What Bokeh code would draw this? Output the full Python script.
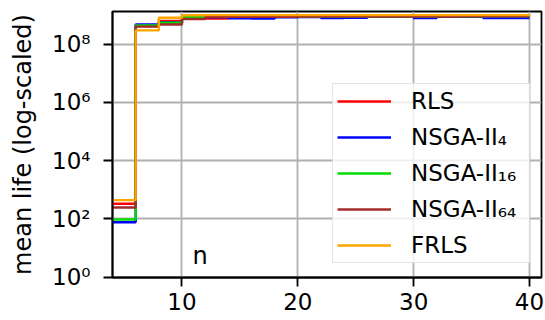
from bokeh.plotting import figure
from bokeh.models import Range1d, FixedTicker, CustomJSTickFormatter, Legend, LegendItem, Label
from bokeh.embed import file_html
from bokeh.resources import INLINE

# ---- data ----
N = [4, 6, 8, 10, 12, 14, 16, 18, 20, 22, 24, 26, 28, 30, 32, 34, 36, 38, 40]
RLS = [330, 4.2e8, 6.2e8, 7.6e8, 7.6e8, 8.4e8, 8.6e8, 8.7e8, 8.8e8, 8.7e8, 8.9e8, 8.8e8,
       8.9e8, 9.0e8, 8.9e8, 9.0e8, 9.0e8, 9.1e8, 9.1e8]
NSGA4 = [77, 4.7e8, 5.5e8, 8.2e8, 8.3e8, 7.7e8, 7.5e8, 8.3e8, 8.5e8, 7.8e8, 8.1e8, 8.6e8,
         8.7e8, 7.9e8, 8.6e8, 8.7e8, 7.9e8, 7.9e8, 7.9e8]
NSGA16 = [95, 4.4e8, 5.4e8, 8.4e8, 8.6e8, 8.7e8, 8.7e8, 8.8e8, 8.8e8, 8.8e8, 8.9e8, 8.9e8,
          8.9e8, 8.9e8, 9.0e8, 9.0e8, 9.0e8, 9.0e8, 9.0e8]
NSGA64 = [245, 4.0e8, 4.7e8, 7.3e8, 8.5e8, 8.6e8, 8.7e8, 8.7e8, 8.8e8, 8.8e8, 8.8e8, 8.9e8,
          8.9e8, 8.9e8, 8.9e8, 9.0e8, 9.0e8, 9.0e8, 9.0e8]
FRLS = [440, 2.96e8, 8.1e8, 9.8e8, 9.9e8, 9.9e8, 9.9e8, 9.9e8, 9.9e8, 9.9e8, 9.9e8, 9.9e8,
        9.9e8, 9.9e8, 9.9e8, 9.9e8, 9.9e8, 9.9e8, 1.0e9]

SERIES_NAMES = ["RLS", "NSGA-II\u2084", "NSGA-II\u2081\u2086", "NSGA-II\u2086\u2084", "FRLS"]
SERIES_VALUES = [RLS, NSGA4, NSGA16, NSGA64, FRLS]
SERIES_COLORS = ["#ff0000", "#0000ff", "#00dd00", "#a52a2a", "#ffa500"]

X_TICKS = [10, 20, 30, 40]
Y_TICKS = [1e0, 1e2, 1e4, 1e6, 1e8]
Y_TICK_LABELS = ["10\u2070", "10\u00b2", "10\u2074", "10\u2076", "10\u2078"]
Y_LABEL = "mean life (log-scaled)"
NOTE = "n"

FONT = "DejaVu Sans"
FS = "23px"

p = figure(width=545, height=320, y_axis_type="log",
           x_range=Range1d(4.0, 41.04), y_range=Range1d(0.97, 1.32e9),
           output_backend="svg", toolbar_location=None,
           min_border_left=112, min_border_right=4, min_border_top=11, min_border_bottom=43)

p.background_fill_color = "white"
p.border_fill_color = "white"
p.outline_line_color = "black"
p.outline_line_width = 1.8

p.xaxis.ticker = FixedTicker(ticks=X_TICKS, minor_ticks=[])
p.yaxis.ticker = FixedTicker(ticks=Y_TICKS, minor_ticks=[])
p.yaxis.formatter = CustomJSTickFormatter(args=dict(yvals=Y_TICKS, ylabs=Y_TICK_LABELS), code="""
    for (let i = 0; i < yvals.length; i++) {
        if (Math.abs(Math.log10(yvals[i]) - Math.log10(tick)) < 1e-6) return ylabs[i];
    }
    return "";
""")

for ax in (p.xaxis, p.yaxis):
    ax.axis_line_color = "black"
    ax.axis_line_width = 1.8
    ax.major_tick_line_color = "black"
    ax.major_tick_line_width = 1.8
    ax.major_tick_in = 0
    ax.major_tick_out = 9
    ax.minor_tick_line_color = None
    ax.major_label_text_font = FONT
    ax.major_label_text_font_size = FS
    ax.major_label_text_color = "black"
p.yaxis.major_label_standoff = 13
p.xaxis.major_label_standoff = 6

p.yaxis.axis_label = Y_LABEL
p.yaxis.axis_label_text_font = FONT
p.yaxis.axis_label_text_font_size = "24px"
p.yaxis.axis_label_text_font_style = "normal"
p.yaxis.axis_label_text_color = "black"
p.yaxis.axis_label_standoff = 12

for g in (p.xgrid, p.ygrid):
    g.grid_line_color = "#b0b0b0"
    g.grid_line_width = 1.8
p.xgrid.ticker = FixedTicker(ticks=X_TICKS)
p.ygrid.ticker = FixedTicker(ticks=Y_TICKS)

items = []
for name, vals, col in zip(SERIES_NAMES, SERIES_VALUES, SERIES_COLORS):
    r = p.step(N, vals, mode="after", line_color=col, line_width=2.4)
    items.append(LegendItem(label=name, renderers=[r]))

legend = Legend(items=items, location=(220, 14), margin=0, padding=4, spacing=10,
                glyph_width=54, glyph_height=22, label_height=22, label_standoff=20,
                label_width=114,
                label_text_font=FONT, label_text_font_size=FS, label_text_color="black",
                border_line_color="#cccccc", border_line_width=1.8,
                background_fill_color="white", background_fill_alpha=0.8)
p.add_layout(legend, "center")

p.add_layout(Label(x=10.9, y=5.5, text=NOTE, text_font=FONT, text_font_size="24px",
                   text_color="black", text_baseline="alphabetic"))

open("out.html", "w").write(file_html(p, INLINE))
